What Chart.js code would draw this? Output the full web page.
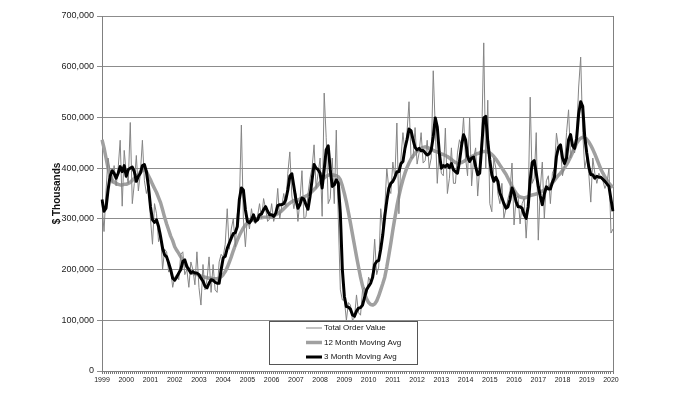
<!DOCTYPE html>
<html>
<head>
<meta charset="utf-8">
<script src="https://cdn.jsdelivr.net/npm/chart.js@4.4.1/dist/chart.umd.min.js"></script>
<style>
  html, body { margin: 0; padding: 0; background: #fff; }
  #wrap { width: 680px; height: 393px; }
</style>
</head>
<body>
<div id="wrap"><canvas id="orders"></canvas></div>
<script>
// values in $ thousands, monthly Jan 1999 - Feb 2020
const years = ['1999','2000','2001','2002','2003','2004','2005','2006','2007','2008','2009',
               '2010','2011','2012','2013','2014','2015','2016','2017','2018','2019','2020'];

const totalOrders = [
  330,275,355,420,395,370,405,365,400,455,325,435,
  390,370,490,330,370,425,355,390,455,375,350,365,
  300,250,330,310,255,275,200,240,235,195,200,165,
  185,190,180,230,235,190,200,165,215,200,170,235,
  165,130,210,160,180,225,155,210,160,155,215,230,
  225,250,320,240,280,300,245,310,330,485,300,245,
  305,280,320,295,290,305,330,300,340,320,295,300,
  330,295,310,360,300,325,350,325,390,432,345,320,
  350,295,335,395,300,305,350,380,400,446,360,390,
  420,305,548,460,330,340,420,330,475,300,160,140,
  140,100,135,130,100,105,150,115,110,160,165,150,
  185,175,195,260,190,205,320,280,320,400,360,350,
  412,380,489,310,420,470,430,470,531,420,420,480,
  408,430,470,410,415,455,400,420,592,480,370,440,
  390,385,479,350,380,440,370,370,430,456,445,500,
  420,385,499,365,420,440,345,400,460,647,400,534,
  330,314,420,400,350,330,370,302,320,340,355,410,
  288,340,345,290,330,340,262,330,540,370,380,470,
  258,360,412,300,375,385,330,390,400,469,440,440,
  385,405,470,515,420,440,430,470,560,619,470,400,
  420,390,333,420,390,370,390,380,375,360,370,400,
  272,280
];

const avg12 = [
  456,440,420,400,385,377,372,370,368,367,367,368,
  368,370,372,376,380,384,388,392,395,397,393,385,
  377,368,360,352,342,332,318,303,290,278,266,257,
  245,238,232,225,219,213,206,200,196,193,191,190,
  189,187,186,185,184,183,183,182,182,182,183,186,
  190,196,204,214,225,237,248,258,267,275,282,288,
  292,295,297,299,300,301,302,302,303,303,304,304,
  305,306,308,310,313,316,320,324,328,331,334,336,
  335,337,339,341,343,345,347,350,354,358,362,367,
  372,377,381,384,386,387,387,386,385,383,377,365,
  350,333,313,292,270,248,226,205,185,168,153,142,
  135,131,130,132,138,148,160,172,185,205,228,252,
  278,302,325,345,362,377,390,401,410,418,424,429,
  434,437,439,441,442,441,439,437,435,433,432,430,
  428,427,425,423,420,417,414,411,410,410,411,413,
  416,419,421,423,425,427,429,430,432,433,433,432,
  430,427,423,418,412,406,400,394,388,380,372,364,
  357,351,346,343,342,341,342,344,346,347,348,349,
  351,353,355,357,359,362,366,371,376,381,386,390,
  395,401,407,414,422,431,440,449,455,459,461,461,
  457,452,445,437,428,418,408,398,390,383,376,370,
  366,362
];

const avg3 = [
  338,315,321,357,384,395,390,380,390,403,393,405,
  384,397,400,402,393,374,384,390,405,407,393,364,
  324,298,293,298,285,265,242,229,225,213,200,183,
  179,185,193,200,216,219,206,200,193,196,193,193,
  190,183,177,167,164,173,180,179,175,173,173,200,
  223,226,242,252,262,271,273,285,338,361,357,318,
  295,292,298,308,295,298,308,310,318,324,315,308,
  308,305,311,326,328,328,330,338,357,384,389,364,
  338,321,328,341,339,328,319,344,377,407,400,397,
  390,361,397,436,444,397,364,367,377,370,311,200,
  147,127,126,122,111,108,118,124,125,130,145,160,
  167,173,185,210,216,218,240,268,305,335,360,370,
  374,382,393,393,409,413,439,456,477,474,456,441,
  436,439,434,435,430,426,428,436,462,499,481,430,
  400,405,403,407,401,409,397,393,390,413,444,466,
  456,423,413,420,422,403,387,390,443,499,502,453,
  416,387,374,382,374,351,341,330,321,324,338,361,
  351,334,324,324,321,308,301,324,377,411,415,390,
  364,345,328,349,363,359,359,372,382,423,441,446,
  420,409,420,456,466,444,439,459,507,531,522,462,
  430,403,387,387,380,384,382,382,378,374,369,364,
  338,315
];

const seriesNames = ['Total Order Value', '12 Month Moving Avg', '3 Month Moving Avg'];

// month labels like 1999-01
const months = [];
for (const y of years) {
    for (let m = 1; m <= 12; m++) {
        months.push(y + '-' + String(m).padStart(2, '0'));
    }
}
months.length = totalOrders.length;

Chart.defaults.font.family = '"Liberation Sans", Arial, sans-serif';

const framePlugin = {
    id: 'frame',
    beforeDatasetsDraw(chart){
        const a = chart.chartArea;
        const ctx = chart.ctx;
        ctx.save();
        ctx.strokeStyle = '#808080';
        ctx.lineWidth = 1;
        ctx.beginPath();
        ctx.moveTo(a.right + 0.5, a.top);
        ctx.lineTo(a.right + 0.5, a.bottom);
        ctx.stroke();
        ctx.restore();
    }
};

const boxLegend = {
    id: 'boxLegend',
    afterDatasetsDraw(chart, args, opts){
        const ctx = chart.ctx;
        ctx.save();
        ctx.fillStyle = '#fff';
        ctx.fillRect(opts.x, opts.y, opts.w, opts.h);
        ctx.strokeStyle = '#555';
        ctx.lineWidth = 1;
        ctx.strokeRect(opts.x + 0.5, opts.y + 0.5, opts.w, opts.h);

        chart.data.datasets.forEach((ds, i) => {
            const ly = opts.y + opts.firstRow + i * opts.rowGap;
            ctx.strokeStyle = ds.borderColor;
            ctx.lineWidth = ds.borderWidth;
            ctx.beginPath();
            ctx.moveTo(opts.sampleX, ly);
            ctx.lineTo(opts.sampleX + opts.sampleW, ly);
            ctx.stroke();

            ctx.fillStyle = '#111';
            ctx.font = '8px "Liberation Sans Narrow", "Liberation Sans", Arial, sans-serif';
            ctx.textBaseline = 'middle';
            ctx.textAlign = 'left';
            ctx.fillText(ds.label, opts.sampleX + opts.sampleW + 2, ly);
        });
        ctx.restore();
    }
};

new Chart(document.getElementById('orders'), {
    type: 'line',
    data: {
        labels: months,
        datasets: [{
            label: seriesNames[0],
            data: totalOrders,
            borderColor: '#858585',
            borderWidth: 1,
            order: 1
        }, {
            label: seriesNames[1],
            data: avg12,
            borderColor: '#a0a0a0',
            borderWidth: 3.5,
            order: 2
        }, {
            label: seriesNames[2],
            data: avg3,
            borderColor: '#000000',
            borderWidth: 3,
            order: 0
        }]
    },
    options: {
        responsive: true,
        maintainAspectRatio: false,
        animation: false,
        devicePixelRatio: 1,
        elements: {
            point: { radius: 0 },
            line: { tension: 0, borderJoinStyle: 'round' }
        },
        layout: {
            padding: { top: 16, right: 67, bottom: 0, left: 0 }
        },
        scales: {
            x: {
                type: 'category',
                offset: false,
                afterFit(scale){ scale.height = 22; },
                grid: {
                    drawOnChartArea: false,
                    drawTicks: true,
                    tickLength: 3,
                    color: '#777'
                },
                border: { color: '#808080' },
                ticks: {
                    autoSkip: false,
                    maxRotation: 0,
                    minRotation: 0,
                    padding: 2,
                    color: '#222',
                    font: { size: 7 },
                    callback(value){
                        const l = this.getLabelForValue(value);
                        return l.endsWith('-01') ? l.slice(0, 4) : '';
                    }
                }
            },
            y: {
                min: 0,
                max: 700,
                afterFit(scale){ scale.width = 102; },
                grid: {
                    color: '#8c8c8c',
                    tickLength: 5
                },
                border: { color: '#808080' },
                ticks: {
                    stepSize: 100,
                    padding: 3,
                    color: '#222',
                    font: { size: 9 },
                    callback: v => (v * 1000).toLocaleString('en-US')
                },
                title: {
                    display: true,
                    text: '$ Thousands',
                    color: '#111',
                    font: { size: 10, weight: 'bold' },
                    padding: { top: 51, bottom: 0 }
                }
            }
        },
        plugins: {
            legend: { display: false },
            tooltip: { enabled: false },
            boxLegend: {
                x: 269, y: 321, w: 148, h: 43,
                firstRow: 7, rowGap: 14.5,
                sampleX: 306, sampleW: 16
            }
        }
    },
    plugins: [framePlugin, boxLegend]
});
</script>
</body>
</html>
